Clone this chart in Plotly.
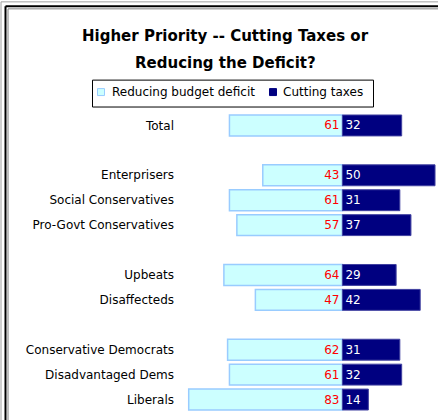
import plotly.graph_objects as go

categories = ["Total", " ", "Enterprisers", "Social Conservatives", "Pro-Govt Conservatives", "  ",
              "Upbeats", "Disaffecteds", "   ", "Conservative Democrats", "Disadvantaged Dems", "Liberals"]
deficit = [61, None, 43, 61, 57, None, 64, 47, None, 62, 61, 83]
taxes = [32, None, 50, 31, 37, None, 29, 42, None, 31, 32, 14]

W, H = 438, 420
L, R, T, B = 185, 0, 112.5, 7.5
PW, PH = W - L - R, H - T - B

def px(x):
    return (x - L) / PW

def py(y):
    return 1 - (y - T) / PH

FONT = "DejaVu Sans"

fig = go.Figure()
fig.add_trace(go.Bar(
    y=categories, x=[-v if v is not None else None for v in deficit], orientation="h",
    name="Reducing budget deficit",
    marker=dict(color="#CCFFFF", line=dict(color="#99CCFF", width=1.5)),
    text=[str(v) if v is not None else "" for v in deficit],
    textposition="inside", insidetextanchor="start", textangle=0,
    insidetextfont=dict(color="#FF0000", size=12, family=FONT),
    constraintext="none", hoverinfo="skip"))
fig.add_trace(go.Bar(
    y=categories, x=taxes, orientation="h",
    name="Cutting taxes",
    marker=dict(color="#000080", line=dict(color="#4040A0", width=1)),
    text=[str(v) if v is not None else "" for v in taxes],
    textposition="inside", insidetextanchor="start", textangle=0,
    insidetextfont=dict(color="#FFFFFF", size=12, family=FONT),
    constraintext="none", hoverinfo="skip"))

fig.update_layout(
    width=W, height=H, margin=dict(l=L, r=R, t=T, b=B, autoexpand=False),
    paper_bgcolor="white", plot_bgcolor="white",
    barmode="relative", bargap=0.16, showlegend=False,
    font=dict(family=FONT, size=12, color="black"),
    xaxis=dict(range=[-85, -85 + PW / 1.852], visible=False, fixedrange=True),
    yaxis=dict(type="category", categoryorder="array", categoryarray=categories,
               autorange="reversed", showgrid=False, zeroline=False, showline=False,
               ticks="", ticklabelstandoff=10, tickfont=dict(size=12, family=FONT, color="black")),
)

# Title
fig.add_annotation(xref="paper", yref="paper", x=px(225), y=py(35), text="<b>Higher Priority -- Cutting Taxes or</b>",
                   showarrow=False, xanchor="center", yanchor="middle",
                   font=dict(family=FONT, size=15, color="black"))
fig.add_annotation(xref="paper", yref="paper", x=px(225), y=py(62), text="<b>Reducing the Deficit?</b>",
                   showarrow=False, xanchor="center", yanchor="middle",
                   font=dict(family=FONT, size=15, color="black"))

# Legend (drawn)
fig.add_shape(type="rect", xref="paper", yref="paper", x0=px(92.5), x1=px(373.5), y0=py(79.5), y1=py(106.5),
              line=dict(color="black", width=1), fillcolor="white", layer="below")
fig.add_shape(type="rect", xref="paper", yref="paper", x0=px(97.5), x1=px(104.5), y0=py(88), y1=py(95),
              line=dict(color="#99CCFF", width=1), fillcolor="#CCFFFF")
fig.add_shape(type="rect", xref="paper", yref="paper", x0=px(269.5), x1=px(276.5), y0=py(88), y1=py(95),
              line=dict(color="#000080", width=1), fillcolor="#000080")
fig.add_annotation(xref="paper", yref="paper", x=px(110), y=py(91.5), text="Reducing budget deficit",
                   showarrow=False, xanchor="left", yanchor="middle", font=dict(family=FONT, size=12))
fig.add_annotation(xref="paper", yref="paper", x=px(281), y=py(91.5), text="Cutting taxes",
                   showarrow=False, xanchor="left", yanchor="middle", font=dict(family=FONT, size=12))

# Frame lines (top and left)
for pos, col, w in [(1, "#A0A0A0", 1), (5.5, "black", 2), (8, "#808080", 1)]:
    fig.add_shape(type="line", xref="paper", yref="paper", x0=px(pos), x1=px(pos), y0=py(pos), y1=py(H + 5),
                  line=dict(color=col, width=w))
    fig.add_shape(type="line", xref="paper", yref="paper", x0=px(pos), x1=px(W + 5), y0=py(pos), y1=py(pos),
                  line=dict(color=col, width=w))

fig.write_html("out.html")
